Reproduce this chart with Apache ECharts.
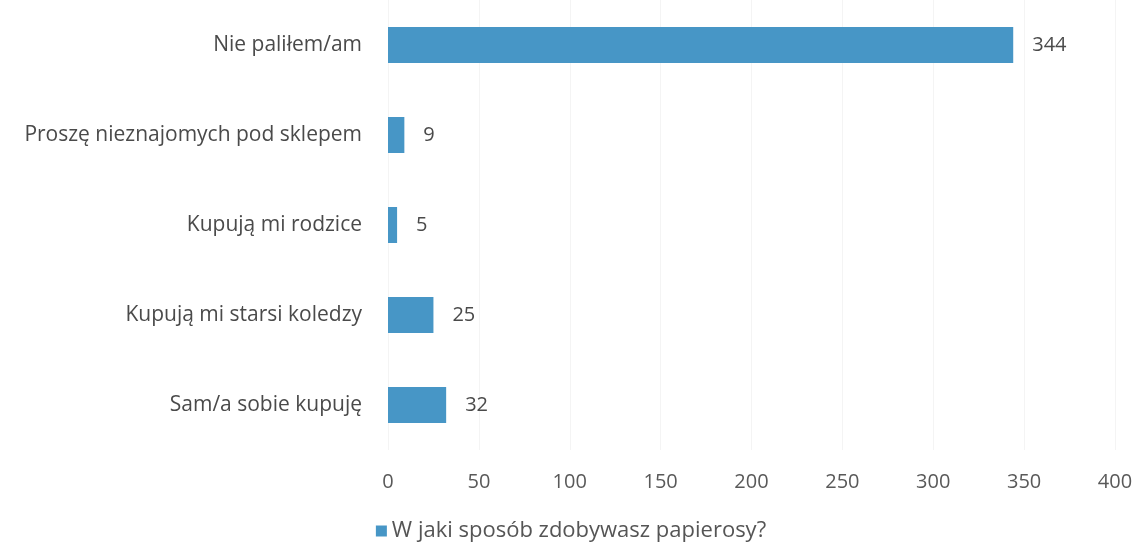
<!DOCTYPE html>
<html>
<head>
<meta charset="utf-8">
<script src="https://cdn.jsdelivr.net/npm/echarts@6/dist/echarts.min.js"></script>
<style>
  html, body { margin: 0; padding: 0; background: #fff; }
  #chart { width: 1142px; height: 550px; }
</style>
</head>
<body>
<div id="chart"></div>
<script>
// kategorie od góry do dołu
const categories = [
  'Nie paliłem/am',
  'Proszę nieznajomych pod sklepem',
  'Kupują mi rodzice',
  'Kupują mi starsi koledzy',
  'Sam/a sobie kupuję'
]
const values = [344, 9, 5, 25, 32]
const seriesName = 'W jaki sposób zdobywasz papierosy?'

const chart = echarts.init(document.getElementById('chart'))
const font = '"Open Sans", Lato, sans-serif'

chart.setOption({
  backgroundColor: '#fff',
  textStyle: { fontFamily: font },
  grid: { left: 388, right: 27, top: 0, height: 450, containLabel: false },
  legend: {
    bottom: 3,
    left: 'center',
    itemWidth: 11,
    itemHeight: 11,
    itemGap: 8,
    textStyle: { fontSize: 22, color: '#555', fontFamily: font },
    data: [{ name: seriesName, icon: 'rect' }]
  },
  xAxis: {
    type: 'value',
    min: 0,
    max: 400,
    interval: 50,
    axisLine: { show: false },
    axisTick: { show: false },
    axisLabel: { fontSize: 20, color: '#595959', margin: 22 },
    splitLine: { show: true, lineStyle: { color: '#f4f4f4' } }
  },
  yAxis: {
    type: 'category',
    inverse: true,
    data: categories,
    axisLine: { show: false },
    axisTick: { show: false },
    axisLabel: { fontSize: 21, color: '#4a4a4a', margin: 26 }
  },
  series: [{
    name: seriesName,
    type: 'bar',
    data: values,
    barWidth: 36,
    itemStyle: { color: '#4796c6' },
    label: {
      show: true,
      position: 'right',
      distance: 19,
      fontSize: 20,
      color: '#4a4a4a'
    }
  }]
})
</script>
</body>
</html>
